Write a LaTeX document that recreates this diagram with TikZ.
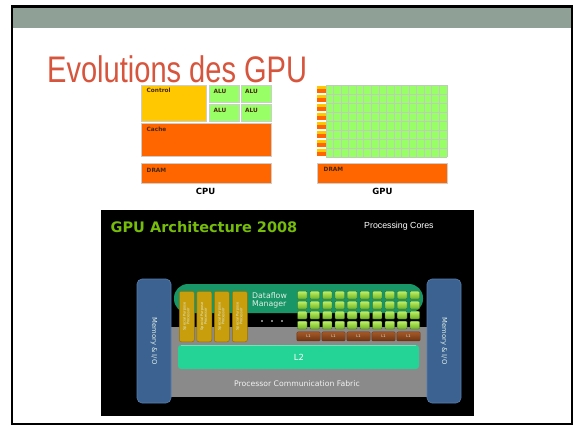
\documentclass[tikz,border=0pt]{standalone}
\usepackage{fontspec}
\setmainfont{DejaVu Sans}
\newfontfamily\arialfont{Liberation Sans}
\usepackage{graphicx}

\definecolor{headgrey}{RGB}{143,161,150}
\definecolor{titlered}{RGB}{215,85,60}
\definecolor{ctrlyellow}{RGB}{255,200,0}
\definecolor{alugreen}{RGB}{153,255,102}
\definecolor{cacheorange}{RGB}{255,102,0}
\definecolor{boxedge}{RGB}{205,205,205}
\definecolor{gridedge}{RGB}{190,205,185}
\definecolor{lblbrown}{RGB}{70,40,10}
\definecolor{nvgreen}{RGB}{118,188,10}
\definecolor{memblue}{RGB}{60,98,145}
\definecolor{memedge}{RGB}{85,125,170}
\definecolor{fabricgrey}{RGB}{138,138,138}
\definecolor{l2green}{RGB}{35,212,150}
\definecolor{dfgreen}{RGB}{24,150,104}
\definecolor{spgold}{RGB}{200,158,12}
\definecolor{spedge}{RGB}{150,112,0}
\definecolor{coretop}{RGB}{190,240,105}
\definecolor{corebot}{RGB}{110,178,32}
\definecolor{coreedge}{RGB}{60,110,20}
\definecolor{l1top}{RGB}{165,90,40}
\definecolor{l1bot}{RGB}{110,52,16}
\definecolor{paletext}{RGB}{225,240,230}

\tikzset{
  cpubox/.style={draw=boxedge, line width=0.6pt, inner sep=0pt, anchor=north west},
  cpulbl/.style={anchor=base west, inner sep=0pt, text=lblbrown,
    font=\bfseries\fontsize{5.8}{5.8}\selectfont},
  caption/.style={anchor=base, inner sep=0pt, font=\bfseries\fontsize{8.5}{8.5}\selectfont},
  membox/.style={fill=memblue, draw=memedge, line width=0.6pt, rounded corners=5pt,
    minimum width=34pt, minimum height=124pt, inner sep=0pt, text=paletext,
    font=\fontsize{6.8}{6.8}\selectfont},
  spbox/.style={fill=spgold, draw=spedge, line width=0.5pt, rounded corners=2pt,
    anchor=north west, minimum width=15pt, minimum height=50.5pt, inner sep=0pt,
    text=paletext, font=\fontsize{3.5}{3.9}\selectfont},
  core/.style={top color=coretop, bottom color=corebot, draw=coreedge, line width=0.4pt,
    rounded corners=0.8pt, anchor=north west, minimum width=9.5pt, minimum height=7.8pt,
    inner sep=0pt},
  l1box/.style={top color=l1top, bottom color=l1bot, draw=l1bot, line width=0.4pt,
    rounded corners=1pt, anchor=north west, minimum width=23.3pt, minimum height=9pt,
    inner sep=0pt, text=paletext, font=\fontsize{3.6}{3.6}\selectfont},
  nvtext/.style={anchor=base west, inner sep=0pt, text=paletext},
}

\begin{document}
\begin{tikzpicture}[x=1pt,y=-1pt]
\useasboundingbox (0,0) rectangle (573,426);
\fill[white] (0,0) rectangle (573,426);

% slide header band and frame
\fill[headgrey] (12,6) rectangle (571.5,27.5);
\draw[line width=2pt] (12,6) rectangle (571.5,424);
\draw[line width=3pt] (11,6.5) -- (572.5,6.5);

% slide title
\node[anchor=base west, inner sep=0pt, text=titlered,
      font=\arialfont\fontsize{37}{37}\selectfont] (title) at (47,82.3)
      {\scalebox{0.785}[1]{Evolutions des GPU}};

% CPU layout
\node[cpubox, fill=ctrlyellow, minimum width=65pt, minimum height=36pt] (control) at (141,85) {};
\node[cpubox, fill=alugreen, minimum width=30pt, minimum height=17.3pt] (alu11) at (209,85) {};
\node[cpubox, fill=alugreen, minimum width=30pt, minimum height=17.3pt] (alu12) at (240.7,85) {};
\node[cpubox, fill=alugreen, minimum width=30pt, minimum height=17.3pt] (alu21) at (209,103.7) {};
\node[cpubox, fill=alugreen, minimum width=30pt, minimum height=17.3pt] (alu22) at (240.7,103.7) {};
\node[cpubox, fill=cacheorange, minimum width=129.7pt, minimum height=32.7pt] (cache) at (141,123.3) {};
\node[cpubox, fill=cacheorange, minimum width=129.7pt, minimum height=19.4pt] (cpudram) at (141,163.3) {};

\node[cpulbl] (control-t) at (146.5,92.7) {Control};
\node[cpulbl] (alu11-t) at (213.5,93.3) {ALU};
\node[cpulbl] (alu12-t) at (245,93.3) {ALU};
\node[cpulbl] (alu21-t) at (213.5,112.3) {ALU};
\node[cpulbl] (alu22-t) at (245,112.3) {ALU};
\node[cpulbl] (cache-t) at (146.5,131.3) {Cache};
\node[cpulbl] (cpudram-t) at (146.5,172.2) {DRAM};
\node[caption] (cpu-cap) at (205.5,194) {CPU};

% GPU layout: 8 rows of control/cache stripes and 16 ALUs
\fill[alugreen] (326,85) rectangle (447,157);
\foreach \c in {0,...,16} {
  \draw[gridedge, line width=0.8pt] ({326+7.5625*\c},85) -- ({326+7.5625*\c},157);
}
\foreach \r in {0,...,8} {
  \draw[gridedge, line width=0.8pt] (326,{85+9*\r}) -- (447,{85+9*\r});
}
\foreach \r in {0,...,7} {
  \pgfmathsetmacro\yy{85+9*\r}
  \fill[ctrlyellow] (317.3,\yy+1) rectangle (325.5,\yy+3.6);
  \fill[cacheorange] (317.3,\yy+4.4) rectangle (325.5,\yy+7.6);
}
\node[cpubox, fill=cacheorange, minimum width=130pt, minimum height=19.4pt] (gpudram) at (317,163.3) {};
\node[cpulbl] (gpudram-t) at (323.5,171.7) {DRAM};
\node[caption] (gpu-cap) at (382.5,194) {GPU};

% GPU architecture 2008 panel
\fill[black] (101,210) rectangle (474,416);
\node[anchor=base west, inner sep=0pt, text=nvgreen,
      font=\bfseries\fontsize{14.5}{14.5}\selectfont] (archtitle) at (110.5,232.3)
      {GPU Architecture 2008};
\node[anchor=base west, inner sep=0pt, text=white,
      font=\arialfont\fontsize{8.8}{8.8}\selectfont] (cores-t) at (364,228.5)
      {Processing Cores};

% communication fabric, dataflow manager and L2
\fill[fabricgrey] (165,327) rectangle (433,397);
\fill[dfgreen, rounded corners=14pt] (174,284) rectangle (423,313);
\fill[l2green, rounded corners=3pt] (178,345) rectangle (419,369);
\draw[white, opacity=0.35, line width=0.8pt] (181,345.6) -- (416,345.6);

\node[nvtext, font=\fontsize{7.8}{7.8}\selectfont] (df1-t) at (252,298) {Dataflow};
\node[nvtext, font=\fontsize{7.8}{7.8}\selectfont] (df2-t) at (252,306.8) {Manager};
\foreach \x in {262,272,282} \fill[white] (\x,321) circle (0.9);

\node[anchor=base, inner sep=0pt, text=white, font=\fontsize{8.4}{8.4}\selectfont]
      (l2-t) at (299,360.5) {L2};
\node[nvtext, text=white!90!gray, font=\fontsize{7.7}{7.7}\selectfont]
      (fabric-t) at (234,386) {Processor Communication Fabric};

% memory and I/O blocks
\node[membox] (memL) at (154,341) {\rotatebox{-90}{Memory \& I/O}};
\node[membox] (memR) at (444,341) {\rotatebox{-90}{Memory \& I/O}};

% special purpose processors
\foreach \i/\x in {0/179,1/196.5,2/214,3/232} {
  \node[spbox] (sp-\i) at (\x,291)
    {\rotatebox{90}{\begin{tabular}{@{}c@{}}Special Purpose\\Processor\end{tabular}}};
}

% processing cores and L1 caches
\foreach \c in {0,...,9} {
  \foreach \r in {0,...,3} {
    \node[core] (core-\c-\r) at ({297.3+12.5*\c},{291+10*\r}) {};
  }
}
\foreach \i in {0,...,4} {
  \node[l1box] (l1-\i) at ({296.7+25*\i},331.7) {L1};
}
\end{tikzpicture}
\end{document}
